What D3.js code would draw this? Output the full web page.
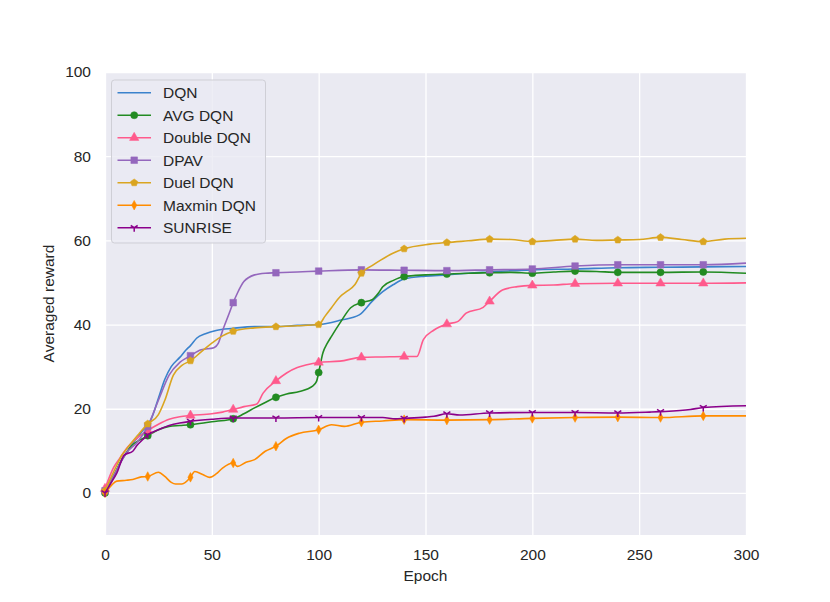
<!DOCTYPE html>
<html>
<head>
<meta charset="utf-8">
<script src="https://cdn.jsdelivr.net/npm/d3@7"></script>
<style>
  body { margin: 0; background: #fff; }
  text { font-family: "Liberation Sans", Arial, sans-serif; fill: #262626; }
</style>
</head>
<body>
<svg id="chart" width="830" height="602"></svg>
<script>
// values, [epoch, reward]
var dqn = [[0,0],[3,3],[5,5],[8,8],[10,9.5],[13,11.9],[15,13],[18,15],[20,16],[22,18],[25,22.5],[28,27],[31,30],[35,32.2],[38,34],[40,35],[43,36.8],[47,37.8],[52,38.6],[60,39.1],[70,39.5],[80,39.5],[90,39.8],[100,40],[110,41],[119,42.3],[125,45.5],[130,47.8],[135,49.5],[140,50.8],[150,51.5],[160,51.8],[170,52.2],[180,52.5],[190,52.8],[200,53],[220,53.2],[240,53.5],[260,53.6],[280,53.7],[300,53.8]];
var avgDqn = [[0,0],[3,3],[5,5],[8,8],[10,9.5],[13,11.5],[15,12.2],[18,13],[20,13.6],[25,15],[30,15.8],[35,16],[40,16.2],[50,16.9],[58,17.4],[60,17.6],[65,18.8],[70,20.2],[75,21.5],[80,22.7],[85,23.5],[91,24.1],[97,25.3],[99,26.5],[100,28.6],[102,33.3],[104,35.5],[106,37.2],[110,40.4],[115,44],[120,45.2],[125,45.9],[128,47.5],[130,49],[135,50.5],[140,51.4],[150,51.8],[160,52],[170,52.2],[180,52.3],[190,52.4],[200,52.2],[210,52.5],[220,52.7],[230,52.6],[240,52.4],[260,52.4],[280,52.5],[300,52.2]];
var doubleDqn = [[0,1],[4,6],[7,8.3],[10,10.5],[15,13],[20,14.8],[25,16.3],[30,17.5],[35,18.1],[40,18.4],[50,18.8],[55,19.2],[60,19.8],[65,20.5],[71,21.1],[74,23.7],[80,26.6],[85,28.5],[90,29.8],[94,30.4],[100,31],[110,31.3],[120,32.2],[130,32.3],[140,32.4],[146,32.4],[149,36.4],[154,38.7],[160,40.1],[165,40.7],[169,42.7],[177,44.1],[180,45.5],[186,48.2],[193,49],[200,49.3],[210,49.4],[220,49.7],[240,49.8],[260,49.8],[280,49.8],[300,49.9]];
var dpav = [[0,0.5],[5,5],[10,9.5],[15,12],[20,15.8],[25,22],[30,28],[35,31],[40,32.6],[45,34],[51,34.5],[53,35.5],[55,38.5],[58,42.5],[60,45.2],[62,47.5],[65,50.2],[70,51.8],[75,52.2],[80,52.3],[90,52.5],[100,52.7],[120,53],[140,52.9],[160,52.8],[180,53],[200,53.2],[220,53.9],[240,54.2],[260,54.2],[280,54.2],[300,54.6]];
var duelDqn = [[0,0.5],[5,6],[8,9],[11,11],[15,13.5],[20,16.4],[25,18.6],[28,22],[32,28],[36,30.3],[40,31.4],[45,33.5],[50,35.6],[55,37.3],[60,38.4],[70,39.2],[80,39.5],[90,39.7],[100,40],[103,42],[106,44],[110,46.6],[113,47.8],[117,49.5],[120,52.2],[125,54],[129,55.3],[135,57],[140,58],[152,59.1],[160,59.5],[170,59.9],[180,60.3],[190,60.2],[200,59.7],[210,60],[220,60.3],[230,60],[240,60.1],[250,60.2],[260,60.7],[270,60.2],[280,59.7],[290,60.3],[300,60.5]];
var maxminDqn = [[0,0],[3,1.8],[5.5,2.8],[10,3],[13,3.2],[17,3.8],[20,3.9],[25,4.9],[28,3.9],[31,2.5],[33,2.1],[36,2.1],[40,3.7],[42,5.1],[46,4.3],[49,3.7],[52,4.5],[55,5.9],[60,7.1],[62,6.3],[66,7.3],[70,7.9],[75,9.9],[80,11.1],[85,13],[91,14.2],[100,15],[106,16.2],[112,15.8],[120,16.8],[130,17.1],[140,17.4],[160,17.3],[180,17.4],[200,17.7],[220,17.9],[240,18],[260,17.9],[280,18.3],[300,18.3]];
var sunrise = [[0,0],[3,2.5],[5.5,4.7],[9,9],[13,9.9],[15,11.3],[18,12.8],[20,13.8],[25,15],[30,16],[35,16.6],[40,17],[50,17.5],[60,17.8],[80,17.8],[100,17.9],[120,17.9],[130,17.9],[136,17.6],[140,17.7],[150,18],[154,18.2],[160,18.8],[166,18.5],[180,19],[200,19.1],[220,19.1],[240,19],[255,19.2],[260,19.3],[274,19.8],[280,20.3],[300,20.7]];

var seriesNames = ["DQN", "AVG DQN", "Double DQN", "DPAV", "Duel DQN", "Maxmin DQN", "SUNRISE"];
var seriesData = [dqn, avgDqn, doubleDqn, dpav, duelDqn, maxminDqn, sunrise];
var seriesColors = ["#3a82cc", "#228b22", "#ff5a8c", "#9467bd", "#daa520", "#ff8c00", "#8b008b"];
var seriesMarkers = ["none", "circle", "triangle", "square", "pentagon", "thin_diamond", "tri_down"];

var xTicks = [0, 50, 100, 150, 200, 250, 300];
var yTicks = [0, 20, 40, 60, 80, 100];

var plotLeft = 105, plotRight = 746, plotTop = 72, plotBottom = 535;

var svg = d3.select("#chart");

var x = d3.scaleLinear().domain([0, 300]).range([plotLeft, plotRight]);
var y = d3.scaleLinear().domain([-10, 100]).range([plotBottom, plotTop]);

svg.append("rect")
  .attr("x", plotLeft).attr("y", plotTop)
  .attr("width", plotRight - plotLeft).attr("height", plotBottom - plotTop)
  .attr("fill", "#eaeaf2");

// grid
svg.append("g")
  .attr("transform", "translate(0," + plotBottom + ")")
  .call(d3.axisBottom(x).tickValues(xTicks).tickSize(-(plotBottom - plotTop)).tickFormat(""))
  .call(function(g){ g.select(".domain").remove(); })
  .selectAll("line").attr("stroke", "#fff").attr("stroke-width", 1.3);

svg.append("g")
  .attr("transform", "translate(" + plotLeft + ",0)")
  .call(d3.axisLeft(y).tickValues(yTicks).tickSize(-(plotRight - plotLeft)).tickFormat(""))
  .call(function(g){ g.select(".domain").remove(); })
  .selectAll("line").attr("stroke", "#fff").attr("stroke-width", 1.3);

// tick labels
var xAxis = svg.append("g")
  .attr("transform", "translate(0," + plotBottom + ")")
  .call(d3.axisBottom(x).tickValues(xTicks).tickSize(0).tickPadding(14));
xAxis.select(".domain").remove();
xAxis.selectAll("text").style("font-size", "15.5px").attr("fill", "#262626")
  .style("font-family", "'Liberation Sans', Arial, sans-serif");

var yAxis = svg.append("g")
  .attr("transform", "translate(" + plotLeft + ",0)")
  .call(d3.axisLeft(y).tickValues(yTicks).tickSize(0).tickPadding(14));
yAxis.select(".domain").remove();
yAxis.selectAll("text").style("font-size", "15.5px").attr("fill", "#262626")
  .style("font-family", "'Liberation Sans', Arial, sans-serif");

svg.append("text")
  .attr("x", (plotLeft + plotRight) / 2).attr("y", 581)
  .attr("text-anchor", "middle").style("font-size", "15.5px")
  .text("Epoch");

svg.append("text")
  .attr("transform", "translate(54," + ((plotTop + plotBottom) / 2) + ") rotate(-90)")
  .attr("text-anchor", "middle").style("font-size", "15.5px")
  .text("Averaged reward");

function markerPath(kind) {
  if (kind === "circle") return d3.symbol(d3.symbolCircle, 40)();
  if (kind === "square") return d3.symbol(d3.symbolSquare, 44)();
  if (kind === "triangle") return d3.symbol(d3.symbolTriangle, 38)();
  if (kind === "pentagon") {
    var r = 3.8, pts = [];
    for (var i = 0; i < 5; i++) {
      var a = -Math.PI / 2 + i * 2 * Math.PI / 5;
      pts.push([r * Math.cos(a), r * Math.sin(a)]);
    }
    return "M" + pts.join("L") + "Z";
  }
  if (kind === "thin_diamond") return "M0,-4.8L2.6,0L0,4.8L-2.6,0Z";
  if (kind === "tri_down") return "M0,0L0,4M0,0L-3.5,-2.2M0,0L3.5,-2.2";
  return null;
}

function drawMarker(g, kind, color, cx, cy) {
  var p = markerPath(kind);
  if (!p) return;
  var m = g.append("path").attr("d", p).attr("transform", "translate(" + cx + "," + cy + ")");
  if (kind === "tri_down") m.attr("fill", "none").attr("stroke", color).attr("stroke-width", 1.5);
  else m.attr("fill", color).attr("stroke", color).attr("stroke-width", 0.5);
}

var line = d3.line()
  .x(function(d){ return x(d[0]); })
  .y(function(d){ return y(d[1]); })
  .curve(d3.curveMonotoneX);

var plot = svg.append("g");

seriesData.forEach(function(data, i) {
  var g = plot.append("g");
  g.append("path")
    .datum(data)
    .attr("d", line)
    .attr("fill", "none")
    .attr("stroke", seriesColors[i])
    .attr("stroke-width", 1.6);
  data.filter(function(d){ return d[0] % 20 === 0 && d[0] <= 280; })
    .forEach(function(d){ drawMarker(g, seriesMarkers[i], seriesColors[i], x(d[0]), y(d[1])); });
});

// legend
var legend = svg.append("g");
legend.append("rect")
  .attr("x", 111.5).attr("y", 80).attr("width", 154).attr("height", 163)
  .attr("rx", 3).attr("fill", "#eaeaf2").attr("fill-opacity", 0.8)
  .attr("stroke", "#cfcfd6").attr("stroke-width", 1);

seriesNames.forEach(function(name, i) {
  var ly = 92.7 + i * 22.5;
  legend.append("line")
    .attr("x1", 117.5).attr("x2", 151).attr("y1", ly).attr("y2", ly)
    .attr("stroke", seriesColors[i]).attr("stroke-width", 1.6);
  drawMarker(legend, seriesMarkers[i], seriesColors[i], 134.2, ly);
  legend.append("text")
    .attr("x", 163).attr("y", ly).attr("dy", "0.35em")
    .style("font-size", "15.5px")
    .text(name);
});
</script>
</body>
</html>
